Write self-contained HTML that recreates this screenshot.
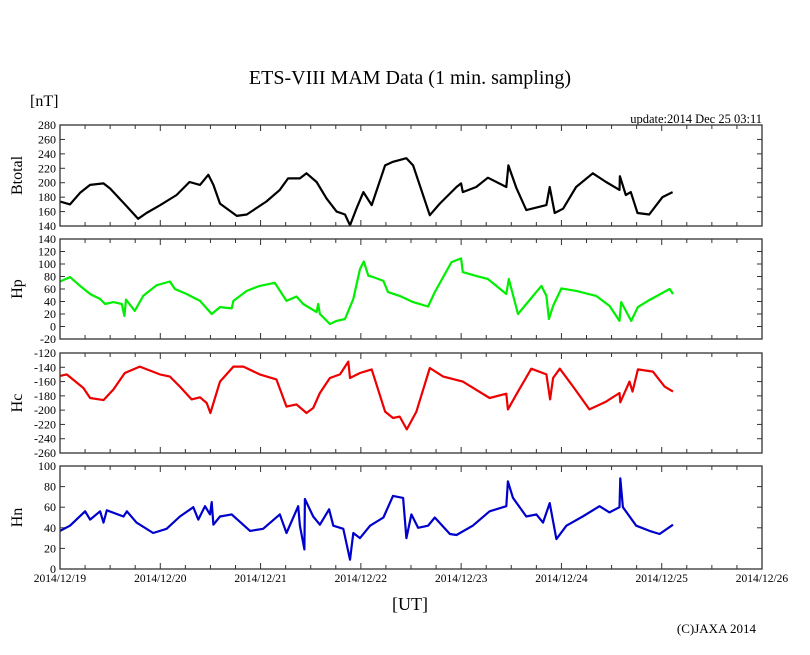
<!DOCTYPE html>
<html><head><meta charset="utf-8">
<style>
html,body{margin:0;padding:0;background:#fff;}
svg{display:block;font-family:"Liberation Serif","DejaVu Serif",serif;}
</style></head>
<body>
<svg id="chart" width="810" height="655" viewBox="0 0 810 655" xmlns="http://www.w3.org/2000/svg">
<rect width="810" height="655" fill="#fff"/>
<text x="410" y="84" font-size="20" text-anchor="middle">ETS-VIII MAM Data (1 min. sampling)</text>
<text x="30" y="106" font-size="16">[nT]</text>
<text x="762" y="123" font-size="12.5" text-anchor="end">update:2014 Dec 25 03:11</text>
<text x="410" y="610" font-size="18" text-anchor="middle">[UT]</text>
<text x="756" y="633" font-size="13" text-anchor="end">(C)JAXA 2014</text>
<g id="plots"></g>
</svg>
<script>
// x-axis: days
const dayLabels = ["2014/12/19","2014/12/20","2014/12/21","2014/12/22","2014/12/23","2014/12/24","2014/12/25","2014/12/26"];
// Btotal
const btHours = [0,2.4,4.8,7.2,10.4,12,16,18.7,20.7,24,27.9,31,33.5,35.5,36.7,38.3,42.3,44.7,49.4,52.6,54.6,57.4,59,61.4,63.8,66.2,68.2,69.4,71,72.6,74.6,77.8,79.7,82.9,84.5,88.5,90.9,94.9,96,96.4,99.6,102.4,106.8,107.3,109.2,111.6,116.4,117.2,118.4,120.4,123.5,127.5,130.7,133.9,134,135.4,136.6,138.2,141,144.2,146.6];
const btVals = [174,170,186,197,199,192,167,150,158,169,183,201,197,211,197,171,154,156,174,190,206,206,213,201,178,160,156,141,165,187,169,224,229,234,224,155,171,194,199,187,194,207,194,224,193,162,169,194,158,164,194,213,201,190,209,183,187,158,156,180,187];
const btTicks = [140,160,180,200,220,240,260,280];
// Hp
const hpHours = [0,2.4,4.8,7.2,9.6,10.8,12.8,14.8,15.4,15.8,17.9,19.9,23.1,26.3,27.5,30.3,33.5,36.3,38.3,41.1,41.5,44.7,47.8,51.4,54.2,56.6,58.2,61.4,61.8,62.2,64.6,66.2,68.2,70.2,71.8,72.7,73.8,74.6,77.4,78.5,81.3,84.5,88.1,89.7,93.7,96,96.4,99.6,102.4,106.8,107.4,109.6,111.6,115.2,116.4,117,118,120,123.6,128.3,131.5,133.9,134.3,136.7,138.3,140.7,145.9,146.7];
const hpVals = [72,79,65,52,44,36,39,36,17,43,25,49,66,72,60,52,41,20,31,29,41,57,65,70,41,48,36,23,36,20,4,9,12,44,92,104,81,80,73,55,49,39,32,55,103,109,87,81,76,52,76,20,36,65,49,12,33,61,57,49,33,9,39,9,31,41,60,52];
const hpTicks = [-20,0,20,40,60,80,100,120,140];
// Hc
const hcHours = [0,1.6,5.6,7.2,10.4,12.8,15.5,19.1,23.9,26.3,28.7,31.5,33.5,35.1,36,38.3,41.5,43.9,47.8,51.8,54.2,56.6,59,60.6,62.2,64.6,67,69,69.4,71.8,74.6,77.8,79.7,81.3,83,85.3,88.5,91.7,96.4,102.8,106.8,107.2,109.6,112.8,116.4,117.3,118,119.6,122.8,126.7,130.7,133.9,134.1,136.3,137,138.3,141.9,144.7,146.7];
const hcVals = [-152,-150,-169,-183,-186,-171,-148,-139,-150,-153,-167,-185,-182,-190,-204,-160,-139,-139,-150,-157,-195,-192,-204,-197,-176,-155,-150,-132,-155,-148,-143,-202,-211,-209,-227,-202,-141,-153,-160,-183,-177,-199,-174,-142,-150,-185,-155,-142,-167,-199,-188,-176,-189,-160,-174,-143,-146,-167,-174];
const hcTicks = [-260,-240,-220,-200,-180,-160,-140,-120];
// Hn
const hnHours = [0,2.4,6,7.2,9.6,10.4,11.2,15.2,16,18.3,22.3,25.5,28.7,31.9,33.1,34.7,35.9,36.3,36.7,38.3,41.1,45.5,48.6,52.6,54.2,57,57.4,58.5,58.6,60.6,62.2,64.4,65.4,67.8,69.4,70.2,71.8,74.2,77.4,79.7,82.1,82.9,84.1,85.7,88.1,89.7,93.3,94.9,98.8,102.8,106.8,107.2,108.4,111.6,114,115.6,117.2,118.8,121.2,125.1,129.1,131.5,133.9,134.1,134.7,137.9,141.1,143.5,146.7];
const hnVals = [37,42,56,48,56,45,57,51,56,45,35,39,51,60,48,61,53,65,43,51,53,37,39,53,35,61,42,19,68,51,43,58,42,39,9,35,30,42,50,71,69,30,53,40,42,50,34,33,42,56,61,85,69,51,53,45,64,29,42,51,61,55,60,88,60,42,37,34,43];
const hnTicks = [0,20,40,60,80,100];

const X0 = 60, X1 = 762, TOTAL_H = 168;
function xScale(h){ return X0 + (h / TOTAL_H) * (X1 - X0); }
const NS = "http://www.w3.org/2000/svg";
const root = document.getElementById("plots");
function mk(tag, attrs, parent){
  const e = document.createElementNS(NS, tag);
  for (const k in attrs) e.setAttribute(k, attrs[k]);
  (parent || root).appendChild(e);
  return e;
}
function panel(key, label, top, bottom, ticks, hours, vals, color, showX){
  const lo = ticks[0], hi = ticks[ticks.length-1];
  const y = v => bottom - (v - lo) / (hi - lo) * (bottom - top);
  const g = mk("g", {});
  
  
  ticks.forEach(t => {
    const yy = y(t);
    const l1 = mk("line", {x1:X0, x2:X0+5, y1:yy, y2:yy, stroke:"#333", "stroke-width":1}, g);
    
    
    const l2 = mk("line", {x1:X1-5, x2:X1, y1:yy, y2:yy, stroke:"#333", "stroke-width":1}, g);
    
    
    const tx = mk("text", {x:X0-4, y:yy+4, "font-size":12, "text-anchor":"end"}, g);
    tx.textContent = t;
    
    
  });
  for (let h = 0; h <= TOTAL_H; h += 6){
    const xx = xScale(h);
    const len = (h % 24 === 0) ? 6 : 4;
    const a = mk("line", {x1:xx, x2:xx, y1:top, y2:top+len, stroke:"#333", "stroke-width":1}, g);
    
    
    const b = mk("line", {x1:xx, x2:xx, y1:bottom-len, y2:bottom, stroke:"#333", "stroke-width":1}, g);
    
    
  }
  let d = "";
  hours.forEach((h, i) => { d += (i ? "L" : "M") + xScale(h).toFixed(1) + "," + y(vals[i]).toFixed(1); });
  const p = mk("path", {d:d, fill:"none", stroke:color, "stroke-width":2.2, "stroke-linejoin":"round"}, g);
  
  
  const frame = mk("rect", {x:X0, y:top, width:X1-X0, height:bottom-top, fill:"none", stroke:"#333", "stroke-width":1.3}, g);
  
  
  const cy = (top + bottom) / 2;
  const lab = mk("text", {x:0, y:0, "font-size":16, "text-anchor":"middle", transform:"translate(22," + cy + ") rotate(-90)"}, g);
  lab.textContent = label;
  
  
  if (showX){
    dayLabels.forEach((s, i) => {
      const t = mk("text", {x:xScale(i*24), y:bottom+13, "font-size":11.5, "text-anchor":"middle"}, g);
      t.textContent = s;
      
      
    });
  }
}
panel("btotal", "Btotal", 125, 226, btTicks, btHours, btVals, "#000", false);
panel("hp", "Hp", 239, 339, hpTicks, hpHours, hpVals, "#00ee00", false);
panel("hc", "Hc", 353, 453, hcTicks, hcHours, hcVals, "#ee0000", false);
panel("hn", "Hn", 466, 569, hnTicks, hnHours, hnVals, "#0000cc", true);
</script>
</body></html>
